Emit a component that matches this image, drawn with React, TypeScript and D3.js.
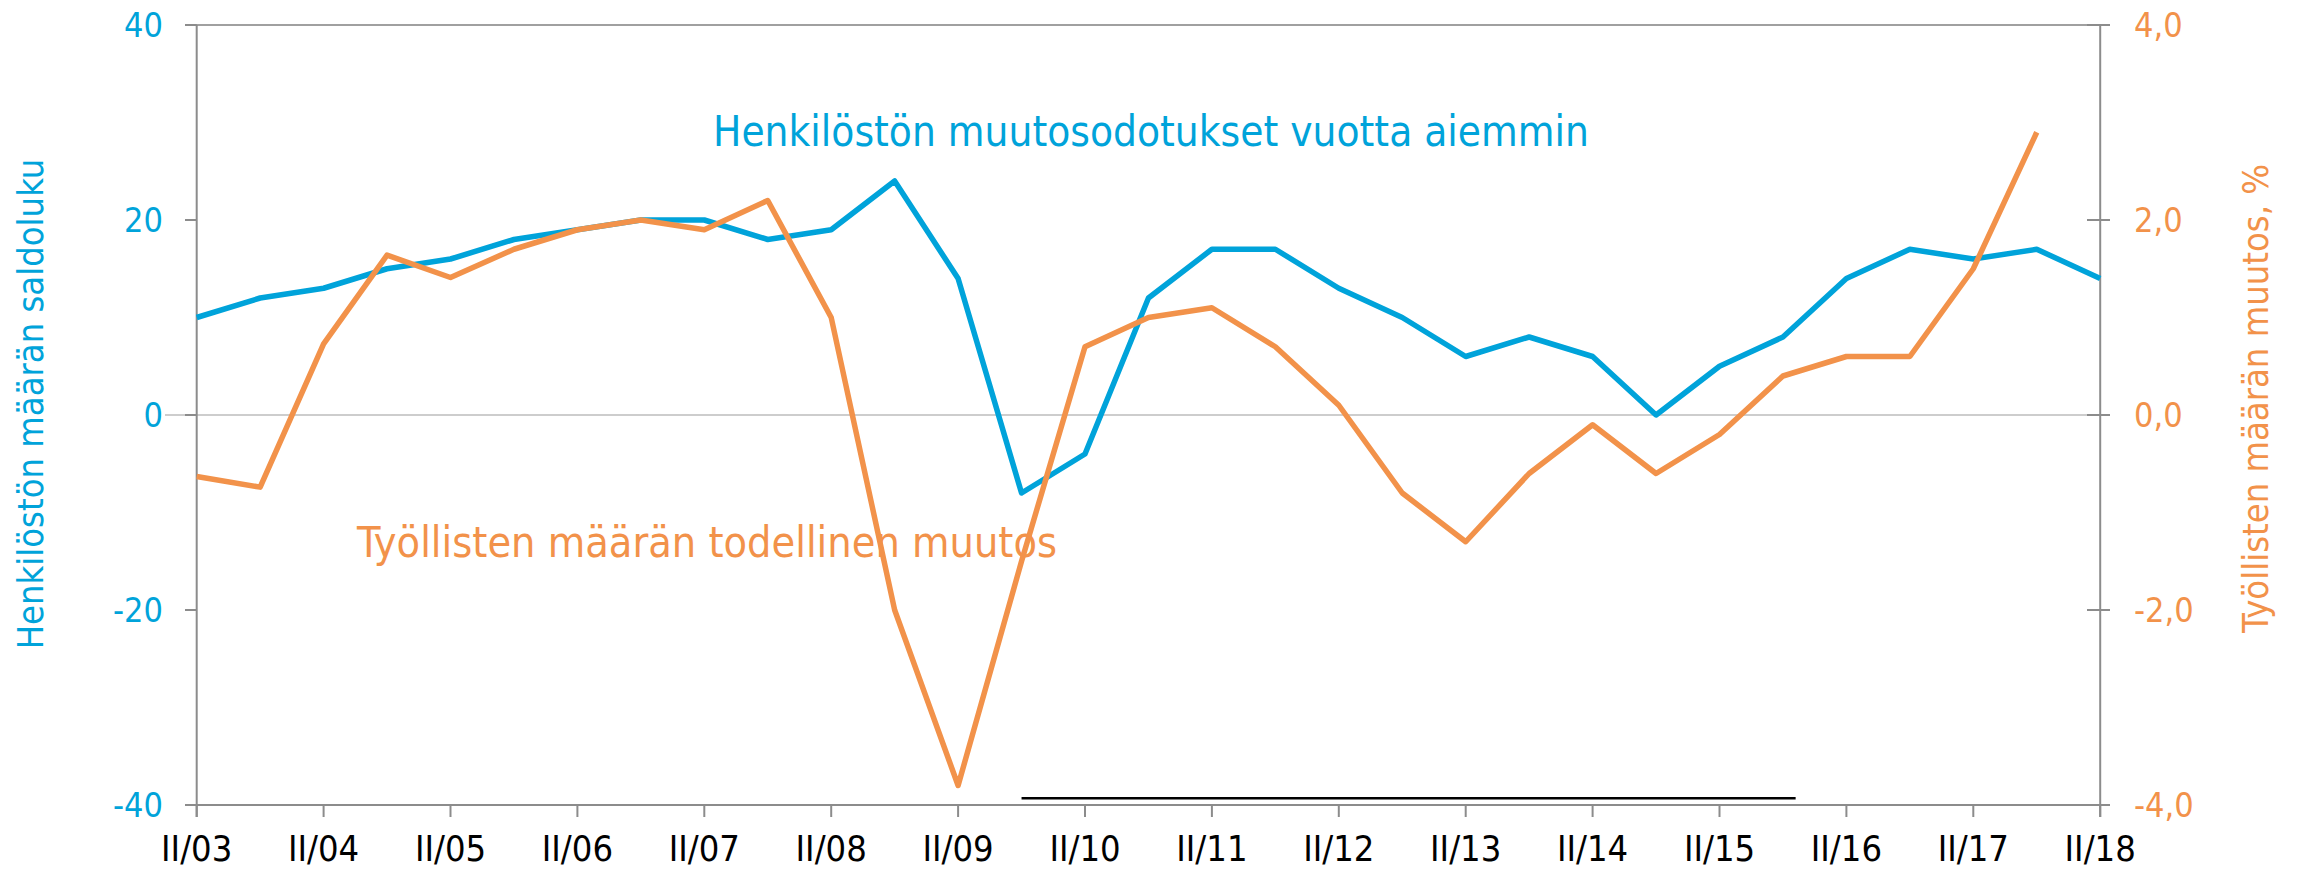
import React, { useEffect } from 'react';
import * as d3 from 'd3';

// ---- Data ----
const categories: string[] = [
  'II/03', 'IV/03', 'II/04', 'IV/04', 'II/05', 'IV/05', 'II/06', 'IV/06',
  'II/07', 'IV/07', 'II/08', 'IV/08', 'II/09', 'IV/09', 'II/10', 'IV/10',
  'II/11', 'IV/11', 'II/12', 'IV/12', 'II/13', 'IV/13', 'II/14', 'IV/14',
  'II/15', 'IV/15', 'II/16', 'IV/16', 'II/17', 'IV/17', 'II/18',
];
const xTickLabels: string[] = [
  'II/03', 'II/04', 'II/05', 'II/06', 'II/07', 'II/08', 'II/09', 'II/10',
  'II/11', 'II/12', 'II/13', 'II/14', 'II/15', 'II/16', 'II/17', 'II/18',
];
// Henkilöstön muutosodotukset vuotta aiemmin (saldoluku, left axis)
const expectations: number[] = [
  10, 12, 13, 15, 16, 18, 19, 20, 20, 18, 19, 24, 14, -8, -4, 12,
  17, 17, 13, 10, 6, 8, 6, 0, 5, 8, 14, 17, 16, 17, 14,
];
// Työllisten määrän todellinen muutos (%, right axis)
const actualChange: number[] = [
  -0.63, -0.74, 0.73, 1.64, 1.41, 1.7, 1.9, 2.0, 1.9, 2.2, 1.0, -2.0, -3.8, -1.5, 0.7, 1.0,
  1.1, 0.7, 0.1, -0.8, -1.3, -0.6, -0.1, -0.6, -0.2, 0.4, 0.6, 0.6, 1.5, 2.9,
];
const leftTicks: number[] = [-40, -20, 0, 20, 40];
const rightTicks: number[] = [-4, -2, 0, 2, 4];
// stray black rule near the bottom (category index range, left-axis value)
const blackRule = { fromIndex: 13, toIndex: 25.2, value: -39.3 };

const leftTitle = 'Henkilöstön määrän saldoluku';
const rightTitle = 'Työllisten määrän muutos, %';
const blueLabel = 'Henkilöstön muutosodotukset vuotta aiemmin';
const orangeLabel = 'Työllisten määrän todellinen muutos';

// ---- Layout / styles ----
const W = 2298;
const H = 870;
const X0 = 196.7;
const X1 = 2100.2;
const YTOP = 25;
const YBOT = 805;
const BLUE = '#00A3DA';
const ORANGE = '#F2924A';
const AXIS = '#8C8C8C';
const FONT = '"DejaVu Sans Condensed", "DejaVu Sans", sans-serif';

export default function App() {
  useEffect(() => {
    document.body.style.margin = '0';
    document.body.style.overflow = 'hidden';
  }, []);

  const x = d3.scaleLinear().domain([0, categories.length - 1]).range([X0, X1]);
  const yL = d3.scaleLinear().domain([-40, 40]).range([YBOT, YTOP]);
  const yR = d3.scaleLinear().domain([-4, 4]).range([YBOT, YTOP]);

  const blueLine = d3.line<number>().x((_, i) => x(i)).y((d) => yL(d))(expectations) || '';
  const orangeLine = d3.line<number>().x((_, i) => x(i)).y((d) => yR(d))(actualChange) || '';

  const fmtR = (v: number) => d3.format('.1f')(v).replace('.', ',').replace('\u2212', '-');

  const tickIdx = categories
    .map((c, i) => ({ c, i }))
    .filter((d) => xTickLabels.includes(d.c));

  return (
    <svg
      width={W}
      height={H}
      style={{ position: 'absolute', left: 0, top: 0, background: '#fff' }}
      fontFamily={FONT}
      fontStretch="condensed"
    >
      <rect x={0} y={0} width={W} height={H} fill="#fff" />
      {/* zero gridline */}
      <line x1={165} x2={X1} y1={yL(0)} y2={yL(0)} stroke="#BDBDBD" strokeWidth={1.5} />
      {/* top border */}
      <line x1={185} x2={2110} y1={YTOP} y2={YTOP} stroke="#A0A0A0" strokeWidth={2} />
      {/* left axis */}
      <line x1={X0} x2={X0} y1={YTOP} y2={YBOT + 12} stroke={AXIS} strokeWidth={2} />
      {leftTicks.map((t) => (
        <g key={'lt' + t}>
          <line x1={185} x2={X0} y1={yL(t)} y2={yL(t)} stroke={AXIS} strokeWidth={2} />
          <text x={163} y={yL(t) + 12.4} textAnchor="end" fontSize={34} fill={BLUE}>
            {String(t)}
          </text>
        </g>
      ))}
      {/* right axis */}
      <line x1={X1} x2={X1} y1={YTOP} y2={YBOT + 12} stroke={AXIS} strokeWidth={2} />
      {rightTicks.map((t) => (
        <g key={'rt' + t}>
          <line x1={2087} x2={2110} y1={yR(t)} y2={yR(t)} stroke={AXIS} strokeWidth={2} />
          <text x={2134} y={yR(t) + 12.4} textAnchor="start" fontSize={34} fill={ORANGE}>
            {fmtR(t)}
          </text>
        </g>
      ))}
      {/* bottom axis */}
      <line x1={185} x2={2110} y1={YBOT} y2={YBOT} stroke={AXIS} strokeWidth={2} />
      {tickIdx.map(({ c, i }) => (
        <g key={'xt' + c}>
          <line x1={x(i)} x2={x(i)} y1={YBOT} y2={YBOT + 12} stroke={AXIS} strokeWidth={2} />
          <text x={x(i)} y={861} textAnchor="middle" fontSize={36} fill="#000">
            {c}
          </text>
        </g>
      ))}
      {/* stray black rule */}
      <line
        x1={x(blackRule.fromIndex)}
        x2={x(blackRule.toIndex)}
        y1={yL(blackRule.value)}
        y2={yL(blackRule.value)}
        stroke="#000"
        strokeWidth={2.5}
      />
      {/* series */}
      <path d={blueLine} fill="none" stroke={BLUE} strokeWidth={5.5} strokeLinejoin="round" />
      <path d={orangeLine} fill="none" stroke={ORANGE} strokeWidth={5.5} strokeLinejoin="round" />
      {/* in-chart labels */}
      <text x={713} y={146} fontSize={42} fill={BLUE} textLength={876} lengthAdjust="spacingAndGlyphs">
        {blueLabel}
      </text>
      <text x={357} y={557} fontSize={42} fill={ORANGE} textLength={700} lengthAdjust="spacingAndGlyphs">
        {orangeLabel}
      </text>
      {/* axis titles */}
      <text
        transform={`translate(43, 404) rotate(-90)`}
        textAnchor="middle"
        fontSize={36}
        fill={BLUE}
      >
        {leftTitle}
      </text>
      <text
        transform={`translate(2268, 398.5) rotate(-90)`}
        textAnchor="middle"
        fontSize={36}
        fill={ORANGE}
      >
        {rightTitle}
      </text>
    </svg>
  );
}
